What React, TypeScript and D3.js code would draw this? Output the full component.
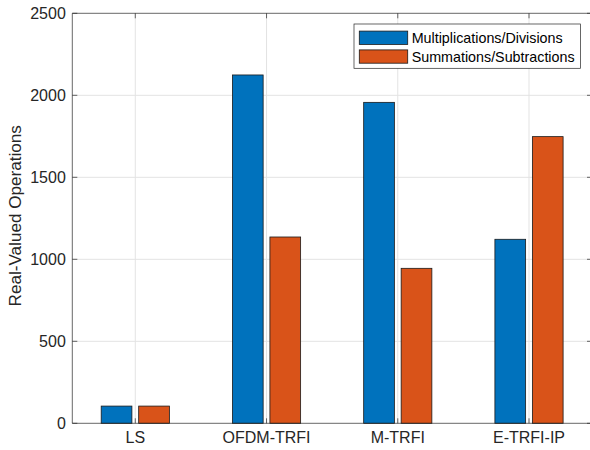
import React, { useEffect, useRef } from 'react';
import * as d3 from 'd3';

const categories = ['LS', 'OFDM-TRFI', 'M-TRFI', 'E-TRFI-IP'];
const seriesNames = ['Multiplications/Divisions', 'Summations/Subtractions'];
const multDiv = [105, 2124, 1957, 1122];
const sumSub = [105, 1136, 945, 1748];
const yTicks = [0, 500, 1000, 1500, 2000, 2500];
const colors = ['#0072BD', '#D95319'];

function BarChart() {
    const svgRef = useRef<SVGSVGElement | null>(null);

    useEffect(() => {
        const width = 590;
        const height = 450;
        const left = 72.3, right = 592, top = 13.3, bottom = 423.3;
        const font = 'Liberation Sans, Arial, Helvetica, sans-serif';
        const ink = '#262626';

        const svg = d3.select(svgRef.current);
        svg.html('');
        svg.attr('width', width).attr('height', height);

        const x = d3.scaleLinear().domain([0.52, 4.48]).range([left, right]);
        const y = d3.scaleLinear().domain([0, 2500]).range([bottom, top]);

        // grid
        const grid = svg.append('g').attr('stroke', '#e3e3e3').attr('stroke-width', 1);
        categories.forEach((_, i) => {
            grid.append('line').attr('x1', x(i + 1)).attr('x2', x(i + 1)).attr('y1', top).attr('y2', bottom);
        });
        yTicks.slice(1, -1).forEach(t => {
            grid.append('line').attr('x1', left).attr('x2', right).attr('y1', y(t)).attr('y2', y(t));
        });

        // bars (MATLAB grouped bar layout)
        const offset = 0.1428;
        const barW = 0.234;
        const series = [multDiv, sumSub];
        series.forEach((vals, s) => {
            svg.append('g').selectAll('rect')
                .data(vals)
                .join('rect')
                .attr('x', (d, i) => x(i + 1 + (s === 0 ? -offset : offset) - barW / 2))
                .attr('width', x(barW) - x(0))
                .attr('y', d => y(d))
                .attr('height', d => y(0) - y(d))
                .attr('fill', colors[s])
                .attr('stroke', '#1a1a1a')
                .attr('stroke-width', 0.8);
        });

        // axes box
        const ax = svg.append('g').attr('stroke', ink).attr('stroke-width', 0.7).attr('fill', 'none');
        ax.append('line').attr('x1', left).attr('x2', right).attr('y1', bottom).attr('y2', bottom);
        ax.append('line').attr('x1', left).attr('x2', right).attr('y1', top).attr('y2', top);
        ax.append('line').attr('x1', left).attr('x2', left).attr('y1', top).attr('y2', bottom);
        ax.append('line').attr('x1', right).attr('x2', right).attr('y1', top).attr('y2', bottom);

        const tl = 5;
        categories.forEach((_, i) => {
            ax.append('line').attr('x1', x(i + 1)).attr('x2', x(i + 1)).attr('y1', bottom).attr('y2', bottom - tl);
            ax.append('line').attr('x1', x(i + 1)).attr('x2', x(i + 1)).attr('y1', top).attr('y2', top + tl);
        });
        yTicks.forEach(t => {
            ax.append('line').attr('x1', left).attr('x2', left + tl).attr('y1', y(t)).attr('y2', y(t));
            ax.append('line').attr('x1', right).attr('x2', right - tl).attr('y1', y(t)).attr('y2', y(t));
        });

        // tick labels
        svg.append('g').selectAll('text')
            .data(categories)
            .join('text')
            .attr('x', (d, i) => x(i + 1))
            .attr('y', bottom + 20)
            .attr('text-anchor', 'middle')
            .attr('font-family', font)
            .attr('font-size', 16)
            .attr('fill', ink)
            .text(d => d);

        svg.append('g').selectAll('text')
            .data(yTicks)
            .join('text')
            .attr('x', left - 6.5)
            .attr('y', d => y(d))
            .attr('dy', '0.36em')
            .attr('text-anchor', 'end')
            .attr('font-family', font)
            .attr('font-size', 16)
            .attr('fill', ink)
            .text(d => d);

        // y label
        svg.append('text')
            .attr('transform', `translate(${21.3},${215.8}) rotate(-90)`)
            .attr('text-anchor', 'middle')
            .attr('font-family', font)
            .attr('font-size', 17.1)
            .attr('fill', ink)
            .text('Real-Valued Operations');

        // legend
        const lg = svg.append('g');
        lg.append('rect')
            .attr('x', 354).attr('y', 24).attr('width', 226.5).attr('height', 44.3)
            .attr('fill', '#fff').attr('stroke', ink).attr('stroke-width', 0.7);
        seriesNames.forEach((name, s) => {
            const cy = 37.7 + s * 18.8;
            lg.append('rect')
                .attr('x', 359.3).attr('y', cy - 6.6).attr('width', 48.4).attr('height', 13.3)
                .attr('fill', colors[s]).attr('stroke', '#1a1a1a').attr('stroke-width', 0.8);
            lg.append('text')
                .attr('x', 411.7).attr('y', cy).attr('dy', '0.36em')
                .attr('font-family', font).attr('font-size', 14.3).attr('fill', '#000')
                .text(name);
        });
    }, []);

    return <svg ref={svgRef} style={{ position: 'absolute', left: 0, top: 0, display: 'block' }}></svg>;
}

export default function App() {
    return <BarChart />;
}
